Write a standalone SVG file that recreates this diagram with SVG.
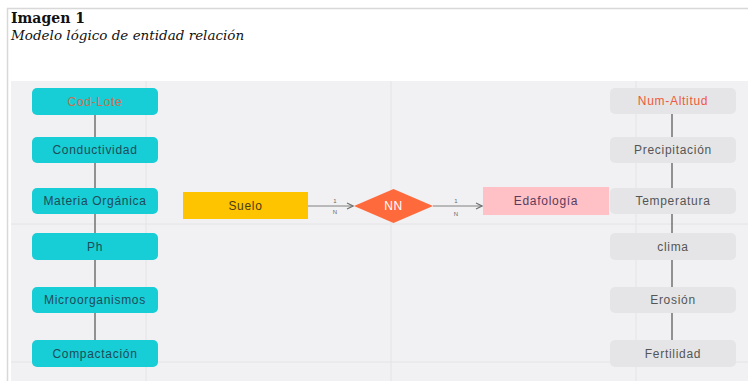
<svg xmlns="http://www.w3.org/2000/svg" width="748" height="381" viewBox="0 0 748 381">
<style>
.ttl{font-family:"DejaVu Serif","Liberation Serif",serif;fill:#111}
.lbl{font-family:"Liberation Sans",Arial,sans-serif;font-size:12px;letter-spacing:0.7px;text-anchor:middle;dominant-baseline:central}
.teal{fill:#17cdd6}
.gray{fill:#e5e5e7}
.tt{fill:#1f4b58}
.gt{fill:#555}
.grid{stroke:#e4e4e8;stroke-width:1}
.conn{stroke:#707070;stroke-width:1.5;fill:none}
.rel{stroke:#808080;stroke-width:1;fill:none}
.card{font-family:"Liberation Sans",Arial,sans-serif;font-size:6px;fill:#666;text-anchor:middle}
</style>
<defs>
<marker id="arr" markerWidth="8" markerHeight="8" refX="7" refY="4" orient="auto" markerUnits="userSpaceOnUse">
<path d="M1,1 L7,4 L1,7" fill="none" stroke="#707070" stroke-width="1.2"/>
</marker>
</defs>
<rect width="748" height="381" fill="#ffffff"/>
<line x1="7" y1="8.5" x2="748" y2="8.5" stroke="#d8d8d8" stroke-width="1.5"/>
<line x1="7.5" y1="8" x2="7.5" y2="381" stroke="#d8d8d8" stroke-width="1.5"/>
<text class="ttl" x="11" y="23" font-size="14" font-weight="bold">Imagen 1</text>
<text class="ttl" x="11" y="40" font-size="13.5" font-style="italic">Modelo lógico de entidad relación</text>
<rect x="11" y="81" width="737" height="300" fill="#f1f1f3"/>
<g id="grid">
<line class="grid" x1="146" y1="81" x2="146" y2="381"/>
<line class="grid" x1="391" y1="81" x2="391" y2="381"/>
<line class="grid" x1="636" y1="81" x2="636" y2="381"/>
<line class="grid" x1="11" y1="224" x2="748" y2="224"/>
<line class="grid" x1="11" y1="362" x2="748" y2="362"/>
</g>
<g id="connectors">
<line class="conn" x1="95" y1="115" x2="95" y2="340"/>
<line class="conn" x1="672" y1="114" x2="672" y2="340"/>
<line class="rel" x1="308" y1="206" x2="353" y2="206" marker-end="url(#arr)"/>
<line class="rel" x1="433" y1="206" x2="482" y2="206" marker-end="url(#arr)"/>
<text class="card" x="335" y="203">1</text>
<text class="card" x="335" y="214">N</text>
<text class="card" x="456" y="203">1</text>
<text class="card" x="456" y="216">N</text>
</g>
<g id="cod-lote"><rect class="teal" x="32" y="88" width="126" height="27" rx="5"/><text class="lbl" x="95" y="101.5" fill="#c9704f">Cod-Lote</text></g>
<g id="conductividad"><rect class="teal" x="32" y="137" width="126" height="26" rx="5"/><text class="lbl tt" x="95" y="150">Conductividad</text></g>
<g id="materia-organica"><rect class="teal" x="32" y="188" width="126" height="26" rx="5"/><text class="lbl tt" x="95" y="201">Materia Orgánica</text></g>
<g id="ph"><rect class="teal" x="32" y="233" width="126" height="27" rx="5"/><text class="lbl tt" x="95" y="246.5">Ph</text></g>
<g id="microorganismos"><rect class="teal" x="32" y="287" width="126" height="26" rx="5"/><text class="lbl tt" x="95" y="300">Microorganismos</text></g>
<g id="compactacion"><rect class="teal" x="32" y="340" width="126" height="27" rx="5"/><text class="lbl tt" x="95" y="353.5">Compactación</text></g>
<g id="num-altitud"><rect class="gray" x="610" y="88" width="126" height="26" rx="5"/><text class="lbl" x="673" y="101" fill="#ee5a3a">Num-Altitud</text></g>
<g id="precipitacion"><rect class="gray" x="610" y="137" width="126" height="26" rx="5"/><text class="lbl gt" x="673" y="150">Precipitación</text></g>
<g id="temperatura"><rect class="gray" x="610" y="188" width="126" height="26" rx="5"/><text class="lbl gt" x="673" y="201">Temperatura</text></g>
<g id="clima"><rect class="gray" x="610" y="233" width="126" height="27" rx="5"/><text class="lbl gt" x="673" y="246.5">clima</text></g>
<g id="erosion"><rect class="gray" x="610" y="287" width="126" height="26" rx="5"/><text class="lbl gt" x="673" y="300">Erosión</text></g>
<g id="fertilidad"><rect class="gray" x="610" y="340" width="126" height="27" rx="5"/><text class="lbl gt" x="673" y="353.5">Fertilidad</text></g>
<g id="suelo"><rect x="183" y="192" width="125" height="27" fill="#ffc400"/><text class="lbl" x="245.5" y="205.5" fill="#4a3a10">Suelo</text></g>
<g id="nn"><polygon points="354,206 393.5,189 433,206 393.5,223" fill="#ff6a3d"/><text class="lbl" x="393.5" y="206" fill="#ffffff">NN</text></g>
<g id="edafologia"><rect x="483" y="187" width="126" height="28" fill="#ffc1c5"/><text class="lbl" x="546" y="201" fill="#5a3a5e">Edafología</text></g>
</svg>
